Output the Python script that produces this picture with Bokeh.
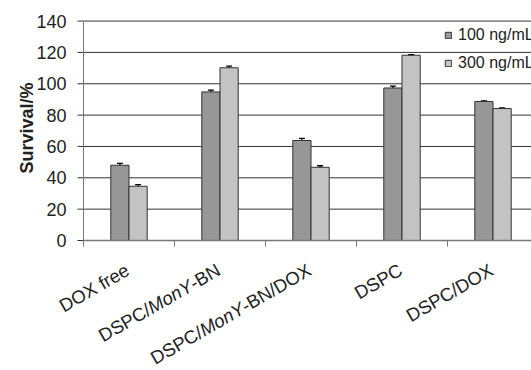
import numpy as np
from math import pi, cos, sin
from bokeh.plotting import figure
from bokeh.core.properties import value
from bokeh.models import (Range1d, ColumnDataSource, Whisker, Legend,
                          LegendItem, TeeHead)
from bokeh.embed import file_html
from bokeh.resources import INLINE

categories = ["DOX free", "DSPC/MonY-BN", "DSPC/MonY-BN/DOX", "DSPC", "DSPC/DOX"]
series_names = ["100 ng/mL", "300 ng/mL"]
survival_100 = [48.0, 94.8, 63.8, 97.3, 88.7]
survival_300 = [34.6, 110.2, 46.7, 118.2, 84.2]
error_100 = [1.2, 1.2, 1.4, 1.2, 0.4]
error_300 = [1.1, 1.0, 1.0, 0.3, 0.4]
y_ticks = [0, 20, 40, 60, 80, 100, 120, 140]
y_label = "Survival/%"
italic_part = "MonY"

FONT = "Liberation Sans"
DARK = "#979797"
LIGHT = "#c3c3c3"
TXT = "#222222"
GRID = "#333333"
AXIS = "#777777"

# ---- geometry (pixels) ----
W, H = 531, 370
LEFT, TOP, BASE = 83, 19, 240     # plot left edge, y=141 row, y=0 row
YMAX = 141
XMAX = 4.923
PX = (W - LEFT) / XMAX            # px per category
PY = (BASE - TOP) / YMAX          # px per survival unit
TICK = 6

idx = np.arange(len(categories))
centers = idx + 0.5
bar_w = 0.2

v1 = np.array(survival_100)
v2 = np.array(survival_300)
e1 = np.array(error_100)
e2 = np.array(error_300)

src = ColumnDataSource(dict(
    x1=centers - bar_w / 2, x2=centers + bar_w / 2,
    v1=v1, v2=v2,
    lo1=v1 - e1, up1=v1 + e1,
    lo2=v2 - e2, up2=v2 + e2,
))

p = figure(width=W, height=H, output_backend="svg", toolbar_location=None,
           x_range=Range1d(-LEFT / PX, XMAX),
           y_range=Range1d(-(H - BASE) / PY, YMAX + TOP / PY),
           x_axis_type=None, y_axis_type=None, min_border=0)
p.grid.visible = False
p.outline_line_color = None
p.background_fill_color = "white"

# horizontal grid lines (with their outward tick) for the non-zero ticks
gy = [t for t in y_ticks if t != 0]
p.segment(x0=[-TICK / PX] * len(gy), x1=[XMAX] * len(gy), y0=gy, y1=gy,
          line_color=GRID, line_width=1)
# tick at zero
p.segment(x0=[-TICK / PX], x1=[0], y0=[0], y1=[0], line_color=GRID, line_width=1)

r1 = p.vbar(x="x1", top="v1", bottom=0, width=bar_w, source=src,
            fill_color=DARK, line_color="#333333", line_width=1)
r2 = p.vbar(x="x2", top="v2", bottom=0, width=bar_w, source=src,
            fill_color=LIGHT, line_color="#333333", line_width=1)

for lo, up, base in (("lo1", "up1", "x1"), ("lo2", "up2", "x2")):
    w = Whisker(base=base, lower=lo, upper=up, source=src,
                line_color="black", line_width=1.3,
                upper_head=TeeHead(size=6, line_color="black", line_width=1.3),
                lower_head=TeeHead(size=6, line_color="black", line_width=1.3))
    p.add_layout(w)

# axis lines
p.segment(x0=[0], x1=[XMAX], y0=[0], y1=[0], line_color=AXIS, line_width=1.5)
p.segment(x0=[0], x1=[0], y0=[0], y1=[max(y_ticks)], line_color=AXIS, line_width=1)
# category boundary ticks
bx = [float(i) for i in range(len(categories) + 1)]
p.segment(x0=bx, x1=bx, y0=[0] * len(bx), y1=[-TICK / PY] * len(bx),
          line_color=AXIS, line_width=1)

# y tick labels
p.text(x=[-(TICK + 11) / PX] * len(y_ticks), y=y_ticks,
       text=[str(t) for t in y_ticks], text_align="right", text_baseline="middle",
       text_font=value(FONT), text_font_size=value("18px"), text_color=TXT)
# y axis title
p.text(x=[(26 - LEFT) / PX], y=[YMAX / 2 + 2 / PY], text=[y_label], angle=pi / 2,
       text_align="center", text_baseline="alphabetic",
       text_font=value(FONT), text_font_size=value("18px"),
       text_font_style=value("bold"), text_color=TXT)

# rotated category labels (right end under each category centre)
FS = 18.5
ANG = pi / 6
EM = {"D": .722, "O": .778, "X": .667, " ": .278, "f": .278, "r": .333,
      "e": .556, "S": .667, "P": .667, "C": .722, "/": .278, "M": .833,
      "o": .556, "n": .556, "Y": .667, "-": .333, "B": .667, "N": .722}


def width(s):
    return sum(EM.get(ch, .6) for ch in s) * FS


def segments(name):
    if italic_part in name:
        a, b = name.split(italic_part, 1)
        return [(a, "normal"), (italic_part, "italic"), (b, "normal")]
    return [(name, "normal")]


end_dx, end_dy = -1.5, -28.0
ux, uy = cos(ANG), sin(ANG)
segs = {"normal": dict(x=[], y=[], text=[]), "italic": dict(x=[], y=[], text=[])}
for c, name in zip(centers, categories):
    total = width(name)
    pos = 0.0
    for txt, style in segments(name):
        if txt:
            back = total - pos
            segs[style]["x"].append(float(c) + (end_dx - back * ux) / PX)
            segs[style]["y"].append((end_dy - back * uy) / PY)
            segs[style]["text"].append(txt)
        pos += width(txt)

for style, d in segs.items():
    p.text(x="x", y="y", text="text", source=ColumnDataSource(d), angle=ANG,
           text_align="left", text_baseline="middle",
           text_font=value(FONT), text_font_size=value(f"{FS}px"),
           text_font_style=value(style), text_color=TXT)

legend = Legend(items=[LegendItem(label=series_names[0], renderers=[r1]),
                       LegendItem(label=series_names[1], renderers=[r2])],
                location=(LEFT + 361, H - BASE + 167), orientation="vertical",
                glyph_width=8, glyph_height=8, label_standoff=6,
                label_height=20, spacing=8, padding=0, margin=0,
                border_line_color=None, background_fill_alpha=0,
                label_text_font=FONT, label_text_font_size="16px",
                label_text_color=TXT)
p.add_layout(legend)

open("out.html", "w").write(file_html(p, INLINE))
